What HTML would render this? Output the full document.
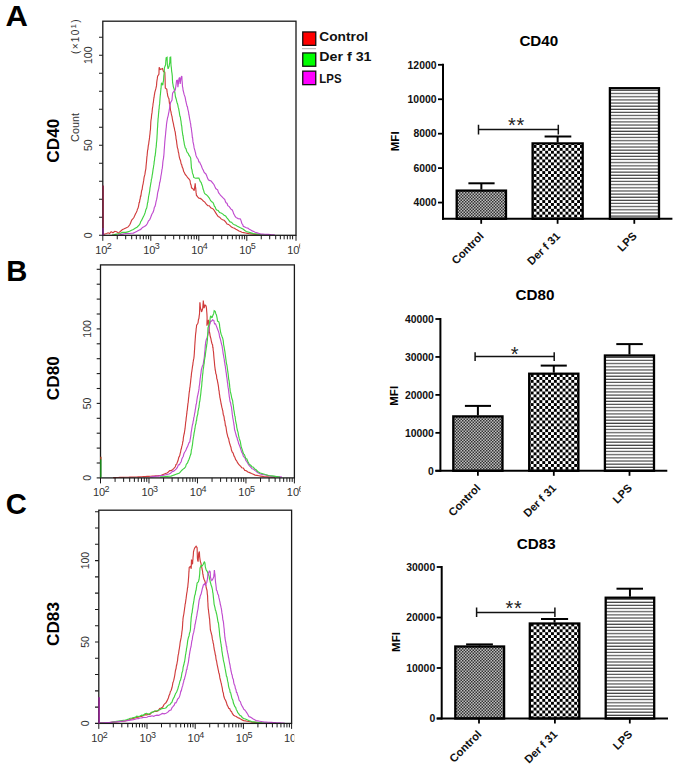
<!DOCTYPE html><html><head><meta charset="utf-8"><style>
html,body{margin:0;padding:0;background:#fff;}
svg{display:block;font-family:"Liberation Sans", sans-serif;}
</style></head><body>
<svg width="675" height="765" viewBox="0 0 675 765">
<defs>
<pattern id="pfine" patternUnits="userSpaceOnUse" width="3" height="3"><rect width="3" height="3" fill="#bdbdbd"/><rect width="1.5" height="1.5" fill="#333"/><rect x="1.5" y="1.5" width="1.5" height="1.5" fill="#333"/></pattern>
<pattern id="pcheck" patternUnits="userSpaceOnUse" width="5.8" height="5.8"><rect width="5.8" height="5.8" fill="#fff"/><rect width="2.9" height="2.9" fill="#000"/><rect x="2.9" y="2.9" width="2.9" height="2.9" fill="#000"/></pattern>
<pattern id="plines" patternUnits="userSpaceOnUse" width="6" height="3.14"><rect width="6" height="3.14" fill="#fff"/><rect y="2" width="6" height="1.1" fill="#3a3a3a"/></pattern>
</defs>
<rect width="675" height="765" fill="#fff"/>

<text transform="translate(5.6,26.2) scale(1.07,1)" font-size="29" font-weight="bold">A</text>
<text x="6.3" y="280.7" font-size="29.2" font-weight="bold">B</text>
<text x="5.7" y="514.2" font-size="29.2" font-weight="bold">C</text>
<text transform="translate(58.6,140.7) rotate(-90)" text-anchor="middle" font-size="17.2" font-weight="bold">CD40</text>
<text transform="translate(58.6,378.2) rotate(-90)" text-anchor="middle" font-size="17.2" font-weight="bold">CD80</text>
<text transform="translate(58.6,624) rotate(-90)" text-anchor="middle" font-size="17.2" font-weight="bold">CD83</text>
<clipPath id="c235"><rect x="0" y="1.2" width="300.2" height="264.1"/></clipPath><g clip-path="url(#c235)">
<polyline points="103,234.6 104.85,234.05 106.7,233.5 108.1,232.8 109.6,233.5 111.1,231.7 113,232.8 114.8,231.3 116.7,231.7 118.5,233.1 120,231.7 122.2,229.8 123.7,229.1 125.9,228 128.1,226.9 129.6,225 130.37,223.62 131.13,221.56 131.9,219.8 133,218.7 133.9,217.57 134.8,215.4 135.53,213.78 136.27,212.45 137,210.9 137.5,208.97 138,208.35 138.5,206.3 138.84,204.44 139.18,202.44 139.51,202.29 139.85,199.68 140.19,198.76 140.52,196.13 140.86,196.13 141.2,193.7 141.51,191.33 141.82,190.05 142.14,189.45 142.45,186.94 142.76,185.04 143.07,184.21 143.39,181.98 143.7,180.4 144.01,177.89 144.33,176.42 144.64,175.36 144.96,174.16 145.27,171.69 145.59,170.09 145.9,168.5 146.05,166.08 146.2,164.7 146.35,163.07 146.5,161.8 146.65,160.05 146.8,157.97 146.95,156.39 147.1,155.67 147.25,153.96 147.4,152.2 147.65,149.95 147.9,149.58 148.15,146.84 148.4,144.93 148.65,144.45 148.9,141.9 149.11,140.62 149.33,139.23 149.54,137.63 149.76,135.22 149.97,133.98 150.19,131.04 150.4,130 150.5,129.07 150.6,126.13 150.7,124.73 150.8,122.36 150.9,121 151.12,119.32 151.34,118.32 151.57,115.42 151.79,113.92 152.01,112.91 152.23,110.57 152.46,108.01 152.68,106.95 152.9,105.4 153.14,103.04 153.38,102.47 153.61,99.91 153.85,98.24 154.09,97.22 154.33,95.15 154.56,94.08 154.8,92.3 155.3,90.66 155.8,88.88 156.3,86.6 156.52,85.63 156.73,82.36 156.95,80.74 157.17,79.41 157.38,78.17 157.6,76.1 158.9,74.2 158.97,73.12 159.05,70.06 159.12,68.35 159.2,67.3 160.2,69.6 161.5,69 162.5,68.6 163.5,71.6 164.8,72.2 164.88,73.17 164.95,74.97 165.03,77.15 165.1,78.8 165.14,80.57 165.18,82.73 165.22,83.7 165.26,85.71 165.3,87.9 166.8,89.2 167.03,91.31 167.25,92.95 167.47,93.93 167.7,95.8 168.35,97.51 169,99 169.2,101.4 169.49,103.52 169.77,103.96 170.06,105.87 170.34,108.55 170.63,110.63 170.91,111.4 171.2,113.2 171.58,115.13 171.96,116.18 172.34,118.73 172.72,120.83 173.1,122.4 173.5,124.18 173.9,126.55 174.3,127.92 174.7,130.44 175.1,131.5 175.34,132.87 175.57,135.24 175.81,135.79 176.05,138.77 176.29,139.76 176.53,140.83 176.76,143.3 177,144.8 177.33,147.34 177.67,148.31 178,149.52 178.33,151.99 178.67,152.78 179,155.26 179.33,157.09 179.67,158.33 180,159.6 180.55,160.65 181.1,163.86 181.65,164.52 182.2,167 182.95,168.54 183.7,171.54 184.45,172.69 185.2,174.4 186.43,175.81 187.67,177.74 188.9,178.9 190,180.4 190.38,182.95 190.75,184.58 191.12,185.28 191.5,187.8 192.85,188.66 194.2,190.7 194.45,188.96 194.7,186.86 194.95,185.55 195.2,183.3 195.37,185.25 195.54,187.42 195.71,188.16 195.89,189.98 196.06,192.63 196.23,193.25 196.4,195.2 197.65,196.91 198.9,198.1 200.37,198.41 201.83,199.42 203.3,201.1 204.8,202.09 206.3,204.04 207.8,205.6 209.27,205.76 210.73,207.9 212.2,208.5 213.32,209.1 214.45,210.69 215.57,212.65 216.7,214.4 218.17,216.51 219.63,217.17 221.1,218.9 222.6,219.83 224.1,220.25 225.6,221.9 227.07,223.96 228.53,224.4 230,225.6 231.47,226.98 232.95,227.68 234.43,228.21 235.9,229.3 237.4,229.94 238.9,230.98 240.4,231.42 241.9,232.2 243.75,232.57 245.6,232.95 247.45,233.32 249.3,233.7 251.27,233.93 253.23,234.17 255.2,234.4 256.9,234.55 258.6,234.7 260.3,234.85 262,235" fill="none" stroke="#d03c3c" stroke-width="1.15" stroke-linejoin="miter" stroke-miterlimit="2"/>
<polyline points="112,235 113.6,234.7 115.2,234.4 116.8,234.1 118.4,233.8 120,233.5 122.2,232.4 124.05,232.4 125.9,232.4 127.75,231.84 129.6,231.3 131.45,230.24 133.3,229.4 135.15,228.27 137,227.2 139.3,225 140.03,223.84 140.77,221.44 141.5,220.6 142.23,219.04 142.97,217.43 143.7,216.1 144.45,214.47 145.2,212.4 145.95,209.42 146.7,208 146.97,206.61 147.25,205.03 147.53,202.81 147.8,202.48 148.07,200.34 148.35,198.73 148.62,196.11 148.9,195.2 149.18,193.8 149.45,192.3 149.72,190.57 150,187.88 150.28,186.61 150.55,185.03 150.82,183.11 151.1,181.9 151.38,179.35 151.65,178.64 151.93,177.3 152.2,175.01 152.47,173.8 152.75,171.82 153.03,169.66 153.3,168.5 153.53,166.79 153.76,165.08 153.99,164.15 154.22,161.17 154.45,160.72 154.68,158.04 154.91,156.23 155.14,156.15 155.37,153.67 155.6,152.2 155.77,149.86 155.94,148.24 156.11,147.53 156.29,145.92 156.46,142.89 156.63,141.8 156.8,140 156.9,138.87 157,137.11 157.1,135.02 157.2,134.02 157.3,131.11 157.4,129.41 157.5,127.79 157.6,127.29 157.7,124.88 157.8,122.51 157.9,122.26 158,120.15 158.1,118.4 158.27,117.53 158.44,115.31 158.61,113.02 158.78,111.95 158.95,109.05 159.12,108.9 159.29,105.81 159.46,105.09 159.63,103.64 159.8,101.4 159.96,99.23 160.11,97.25 160.27,95.54 160.43,94.45 160.59,92.47 160.74,90.88 160.9,89.2 161.05,88.19 161.2,85.89 161.35,83.97 161.5,82.7 162.8,85.3 163.15,82.21 163.5,80.7 163.62,78.82 163.75,76.86 163.88,75.13 164,74.48 164.12,72.94 164.25,71.43 164.38,68.42 164.5,67.6 165.5,65 165.65,63.8 165.8,61.52 165.95,60.41 166.1,57.8 167.1,57.2 167.18,59.91 167.25,61.98 167.32,63.65 167.4,65 167.75,66.93 168.1,68.9 169.1,66.3 169.4,64.13 169.7,63.1 169.8,62.12 169.9,59.18 170,57.5 170.7,57.2 170.77,58.44 170.85,61.68 170.93,63.48 171,65 171.18,66.48 171.35,67.63 171.52,69.82 171.7,71.6 172,73.41 172.3,76.1 172.38,78.52 172.45,80.29 172.53,80.59 172.6,82.7 172.95,84.37 173.3,86.6 173.95,88.49 174.6,90.5 174.83,92.78 175.07,93.56 175.3,95.8 175.75,97.79 176.2,98.95 176.65,101.1 177.1,102.7 177.48,103.72 177.86,105.14 178.24,107.42 178.62,108.38 179,110.6 179.33,112.3 179.67,114.78 180,116.39 180.33,116.72 180.67,119.58 181,121 181.22,123.22 181.43,125.17 181.65,125.4 181.87,127.4 182.08,130.09 182.3,131.5 182.56,133.39 182.82,135.25 183.08,135.97 183.34,138.15 183.6,140 184,141.91 184.4,144.57 184.8,145.8 185.2,147.8 185.94,148.61 186.68,151.18 187.42,152.72 188.16,153.32 188.9,155.2 189.8,156.27 190.7,158.1 190.83,159.97 190.97,161.14 191.1,163.13 191.23,164.84 191.37,167.44 191.5,168.5 191.94,169.52 192.38,172.65 192.82,173.92 193.26,174.81 193.7,177.4 195.43,178.26 197.17,178.03 198.9,178.1 199.65,179.93 200.4,181.79 201.15,182.27 201.9,184.8 202.48,186.13 203.06,189.03 203.64,190.36 204.22,192.5 204.8,193.7 206.3,194.68 207.8,196.19 209.3,198.1 210.53,200.46 211.77,201.8 213,202.6 213.74,204.2 214.48,206.36 215.22,207.15 215.96,209.15 216.7,210 218.17,210.54 219.63,212.5 221.1,213 222.6,213.87 224.1,215.16 225.6,215.9 226.7,217.62 227.8,218.87 228.9,220.33 230,221.9 231.47,222.22 232.93,223.92 234.4,224.8 235.9,225.22 237.4,226.38 238.9,227.09 240.4,227.8 241.88,228.43 243.35,229.32 244.83,230.53 246.3,231.5 248.15,232.07 250,232.6 251.85,233.15 253.7,233.7 255.67,233.93 257.63,234.17 259.6,234.4 261.2,234.55 262.8,234.7 264.4,234.85 266,235" fill="none" stroke="#40d240" stroke-width="1.15" stroke-linejoin="miter" stroke-miterlimit="2"/>
<polyline points="118,235 119.58,234.7 121.16,234.4 122.74,234.1 124.32,233.8 125.9,233.5 127.75,233.5 129.6,233.5 131.45,233.3 133.3,233.1 135.15,232.2 137,231.3 138.85,230.22 140.7,229.4 142.55,227.39 144.4,226.5 145.9,225.59 147.4,223.5 148.5,220.86 149.6,219.8 150.35,218.38 151.1,216.28 151.85,214.25 152.6,213 153.2,211.9 153.8,209.99 154.4,207.17 155,206.44 155.6,204.1 155.92,202.04 156.24,200.84 156.57,199.7 156.89,198.06 157.21,196.31 157.53,193.54 157.86,191.85 158.18,191 158.5,189.3 158.8,188.31 159.1,186.27 159.4,184.93 159.7,182.12 160,182.05 160.3,180.1 160.6,178.77 160.9,176.11 161.2,174.75 161.5,173 161.72,171.47 161.94,169.38 162.16,168.9 162.38,167.36 162.6,165.55 162.82,162.43 163.04,160.75 163.26,159.53 163.48,158.32 163.7,156.7 163.83,155.41 163.96,154.05 164.09,152.04 164.22,149.36 164.35,148.53 164.48,146.52 164.61,144.73 164.74,142.86 164.87,141.14 165,140 165.16,138.12 165.32,136.59 165.48,135.27 165.64,133.47 165.8,131.41 165.96,130.15 166.12,128.21 166.28,127.44 166.44,125.01 166.6,123.7 166.93,121.39 167.27,119.5 167.6,117.73 167.93,116.59 168.27,115.29 168.6,113.2 168.92,112.04 169.23,109.92 169.55,108.34 169.87,105.34 170.18,104.57 170.5,102.7 172,100 172.15,98.15 172.3,96.28 172.45,94.73 172.6,93.1 174,91.2 175.3,89.9 175.56,88.25 175.82,86.26 176.08,84.59 176.34,82.42 176.6,80.7 177.5,80.1 177.6,82.67 177.7,83.84 177.8,85.26 177.9,87.3 178.1,85.59 178.3,84.18 178.5,82.9 178.7,81.01 178.9,78.8 179.5,77.5 179.68,78.25 179.85,81.36 180.02,81.73 180.2,84 180.42,82.06 180.65,79.88 180.88,78.73 181.1,77.5 181.8,76.1 181.92,77.39 182.03,80.49 182.15,81.57 182.27,82.77 182.38,84.71 182.5,86.6 182.8,87.66 183.1,90.5 183.6,92.19 184.1,94.4 185.1,97.1 185.47,99.11 185.83,101.23 186.2,102.7 186.6,104.49 187,106.12 187.4,106.61 187.8,109.06 188.2,110.6 188.52,111.74 188.83,114.52 189.15,115.58 189.47,117.81 189.78,119.57 190.1,121 190.38,122.88 190.66,123.84 190.94,127.06 191.22,127.67 191.5,130 191.71,131.78 191.93,133.19 192.14,135.18 192.36,137.57 192.57,137.67 192.79,139.58 193,141.9 193.36,143.48 193.72,145 194.09,147.67 194.45,149.1 194.81,150.06 195.18,151.86 195.54,152.84 195.9,155.2 196.65,157.11 197.4,158.29 198.15,159.2 198.9,161.99 199.65,162.03 200.4,164.1 201.13,165.15 201.87,167.24 202.6,168.93 203.33,170.26 204.07,172.19 204.8,173 205.7,173.72 206.6,175.54 207.5,178.11 208.4,179.8 209.3,180.4 211.15,181.08 213,183.3 213.93,184.51 214.85,186.6 215.77,188.55 216.7,189.3 217.62,189.89 218.55,192.73 219.47,193.77 220.4,195.2 221.87,196.55 223.33,198.19 224.8,199.6 225.55,201.9 226.3,202.91 227.05,203.24 227.8,205.6 229.27,206.63 230.73,208.88 232.2,210 232.94,211.4 233.68,213.85 234.42,215.05 235.16,216.46 235.9,217.4 238.15,218.6 240.4,218.9 241.12,220.92 241.85,223.5 242.58,224.35 243.3,226.3 244.8,227.08 246.3,227.82 247.8,228.15 249.3,229.3 250.78,230.1 252.25,230.89 253.72,231.56 255.2,232.2 257.17,232.83 259.13,233.47 261.1,234.1 262.95,234.18 264.8,234.25 266.65,234.32 268.5,234.4 270.12,234.55 271.75,234.7 273.38,234.85 275,235" fill="none" stroke="#c04ccf" stroke-width="1.15" stroke-linejoin="miter" stroke-miterlimit="2"/>
<rect x="102.8" y="21.2" width="193.2" height="214.1" fill="none" stroke="#1a1a1a" stroke-width="1.3"/>
<line x1="99" y1="235.3" x2="102.8" y2="235.3" stroke="#1a1a1a" stroke-width="1.1"/>
<line x1="99" y1="217.29" x2="102.8" y2="217.29" stroke="#1a1a1a" stroke-width="1.1"/>
<line x1="99" y1="199.28" x2="102.8" y2="199.28" stroke="#1a1a1a" stroke-width="1.1"/>
<line x1="99" y1="181.27" x2="102.8" y2="181.27" stroke="#1a1a1a" stroke-width="1.1"/>
<line x1="99" y1="163.26" x2="102.8" y2="163.26" stroke="#1a1a1a" stroke-width="1.1"/>
<line x1="99" y1="145.25" x2="102.8" y2="145.25" stroke="#1a1a1a" stroke-width="1.1"/>
<line x1="99" y1="127.24" x2="102.8" y2="127.24" stroke="#1a1a1a" stroke-width="1.1"/>
<line x1="99" y1="109.23" x2="102.8" y2="109.23" stroke="#1a1a1a" stroke-width="1.1"/>
<line x1="99" y1="91.22" x2="102.8" y2="91.22" stroke="#1a1a1a" stroke-width="1.1"/>
<line x1="99" y1="73.21" x2="102.8" y2="73.21" stroke="#1a1a1a" stroke-width="1.1"/>
<line x1="99" y1="55.2" x2="102.8" y2="55.2" stroke="#1a1a1a" stroke-width="1.1"/>
<line x1="99" y1="37.19" x2="102.8" y2="37.19" stroke="#1a1a1a" stroke-width="1.1"/>
<text transform="translate(92,235.3) rotate(-90)" text-anchor="middle" font-size="10.5" fill="#333">0</text>
<text transform="translate(92,145.25) rotate(-90)" text-anchor="middle" font-size="10.5" fill="#333">50</text>
<text transform="translate(92,55.2) rotate(-90)" text-anchor="middle" font-size="10.5" fill="#333">100</text>
<line x1="102.8" y1="235.3" x2="102.8" y2="240.8" stroke="#1a1a1a" stroke-width="1"/>
<line x1="117.25" y1="235.3" x2="117.25" y2="239.3" stroke="#1a1a1a" stroke-width="1"/>
<line x1="125.7" y1="235.3" x2="125.7" y2="239.3" stroke="#1a1a1a" stroke-width="1"/>
<line x1="131.7" y1="235.3" x2="131.7" y2="239.3" stroke="#1a1a1a" stroke-width="1"/>
<line x1="136.35" y1="235.3" x2="136.35" y2="239.3" stroke="#1a1a1a" stroke-width="1"/>
<line x1="140.15" y1="235.3" x2="140.15" y2="239.3" stroke="#1a1a1a" stroke-width="1"/>
<line x1="143.36" y1="235.3" x2="143.36" y2="239.3" stroke="#1a1a1a" stroke-width="1"/>
<line x1="146.15" y1="235.3" x2="146.15" y2="239.3" stroke="#1a1a1a" stroke-width="1"/>
<line x1="148.6" y1="235.3" x2="148.6" y2="239.3" stroke="#1a1a1a" stroke-width="1"/>
<line x1="150.8" y1="235.3" x2="150.8" y2="240.8" stroke="#1a1a1a" stroke-width="1"/>
<line x1="165.25" y1="235.3" x2="165.25" y2="239.3" stroke="#1a1a1a" stroke-width="1"/>
<line x1="173.7" y1="235.3" x2="173.7" y2="239.3" stroke="#1a1a1a" stroke-width="1"/>
<line x1="179.7" y1="235.3" x2="179.7" y2="239.3" stroke="#1a1a1a" stroke-width="1"/>
<line x1="184.35" y1="235.3" x2="184.35" y2="239.3" stroke="#1a1a1a" stroke-width="1"/>
<line x1="188.15" y1="235.3" x2="188.15" y2="239.3" stroke="#1a1a1a" stroke-width="1"/>
<line x1="191.36" y1="235.3" x2="191.36" y2="239.3" stroke="#1a1a1a" stroke-width="1"/>
<line x1="194.15" y1="235.3" x2="194.15" y2="239.3" stroke="#1a1a1a" stroke-width="1"/>
<line x1="196.6" y1="235.3" x2="196.6" y2="239.3" stroke="#1a1a1a" stroke-width="1"/>
<line x1="198.8" y1="235.3" x2="198.8" y2="240.8" stroke="#1a1a1a" stroke-width="1"/>
<line x1="213.25" y1="235.3" x2="213.25" y2="239.3" stroke="#1a1a1a" stroke-width="1"/>
<line x1="221.7" y1="235.3" x2="221.7" y2="239.3" stroke="#1a1a1a" stroke-width="1"/>
<line x1="227.7" y1="235.3" x2="227.7" y2="239.3" stroke="#1a1a1a" stroke-width="1"/>
<line x1="232.35" y1="235.3" x2="232.35" y2="239.3" stroke="#1a1a1a" stroke-width="1"/>
<line x1="236.15" y1="235.3" x2="236.15" y2="239.3" stroke="#1a1a1a" stroke-width="1"/>
<line x1="239.36" y1="235.3" x2="239.36" y2="239.3" stroke="#1a1a1a" stroke-width="1"/>
<line x1="242.15" y1="235.3" x2="242.15" y2="239.3" stroke="#1a1a1a" stroke-width="1"/>
<line x1="244.6" y1="235.3" x2="244.6" y2="239.3" stroke="#1a1a1a" stroke-width="1"/>
<line x1="246.8" y1="235.3" x2="246.8" y2="240.8" stroke="#1a1a1a" stroke-width="1"/>
<line x1="261.25" y1="235.3" x2="261.25" y2="239.3" stroke="#1a1a1a" stroke-width="1"/>
<line x1="269.7" y1="235.3" x2="269.7" y2="239.3" stroke="#1a1a1a" stroke-width="1"/>
<line x1="275.7" y1="235.3" x2="275.7" y2="239.3" stroke="#1a1a1a" stroke-width="1"/>
<line x1="280.35" y1="235.3" x2="280.35" y2="239.3" stroke="#1a1a1a" stroke-width="1"/>
<line x1="284.15" y1="235.3" x2="284.15" y2="239.3" stroke="#1a1a1a" stroke-width="1"/>
<line x1="287.36" y1="235.3" x2="287.36" y2="239.3" stroke="#1a1a1a" stroke-width="1"/>
<line x1="290.15" y1="235.3" x2="290.15" y2="239.3" stroke="#1a1a1a" stroke-width="1"/>
<line x1="292.6" y1="235.3" x2="292.6" y2="239.3" stroke="#1a1a1a" stroke-width="1"/>
<line x1="296" y1="235.3" x2="296" y2="240.8" stroke="#1a1a1a" stroke-width="1"/>
<text x="95.2" y="253.8" font-size="11" fill="#333">10<tspan dx="-0.6" dy="-4.4" font-size="9">2</tspan></text>
<text x="143.2" y="253.8" font-size="11" fill="#333">10<tspan dx="-0.6" dy="-4.4" font-size="9">3</tspan></text>
<text x="191.2" y="253.8" font-size="11" fill="#333">10<tspan dx="-0.6" dy="-4.4" font-size="9">4</tspan></text>
<text x="239.2" y="253.8" font-size="11" fill="#333">10<tspan dx="-0.6" dy="-4.4" font-size="9">5</tspan></text>
<text x="287.2" y="253.8" font-size="11" fill="#333">10<tspan dx="-0.6" dy="-4.4" font-size="9">6</tspan></text>
<line x1="103.1" y1="185.5" x2="103.1" y2="228" stroke="#86203f" stroke-width="1.5"/>
<line x1="103.1" y1="228" x2="103.1" y2="235.3" stroke="#7a2080" stroke-width="1.5"/>
</g>
<text transform="translate(79,127.5) rotate(-90)" text-anchor="middle" font-size="10.8" fill="#333">Count</text>
<text transform="translate(78.8,54) rotate(-90)" font-size="10" fill="#333" letter-spacing="1.3">(×10<tspan dy="-3.3" font-size="8">1</tspan><tspan dy="3.3">)</tspan></text>
<clipPath id="c477"><rect x="0" y="244.9" width="300.8" height="263"/></clipPath><g clip-path="url(#c477)">
<polyline points="113,477.6 114.69,477.56 116.38,477.51 118.06,477.47 119.75,477.43 121.44,477.38 123.12,477.34 124.81,477.29 126.5,477.25 128.19,477.21 129.88,477.16 131.56,477.12 133.25,477.07 134.94,477.03 136.62,476.99 138.31,476.94 140,476.9 141.77,476.79 143.54,476.67 145.31,476.56 147.09,476.44 148.86,476.33 150.63,476.21 152.4,476.1 154.06,475.98 155.72,475.86 157.38,475.74 159.04,475.62 160.7,475.5 162.27,474.87 163.85,474.18 165.43,473.45 167,473 168.38,472.03 169.77,470.64 171.15,470.56 172.53,469.67 173.92,468.39 175.3,466.8 175.98,464.52 176.67,464.18 177.35,462.17 178.03,460.56 178.72,457.53 179.4,456.4 179.79,455.37 180.18,453.35 180.56,452.28 180.95,449.76 181.34,448.73 181.72,446.66 182.11,445.41 182.5,443.9 182.79,441.49 183.07,441.28 183.36,437.85 183.65,436.21 183.94,434.54 184.23,433.76 184.51,431.81 184.8,430 185,428.97 185.2,426.96 185.4,425.22 185.6,422.74 185.8,421.6 186,420.5 186.2,417.93 186.4,416.78 186.6,415 186.8,413.68 187,411.14 187.2,410.55 187.4,408.62 187.6,406.67 187.8,404.83 188,403.06 188.2,402.38 188.4,400 188.6,397.85 188.8,396.78 189,394.29 189.2,392.52 189.4,391.46 189.6,390.1 189.8,387.55 190,387.44 190.2,385 190.4,383.45 190.6,381.85 190.8,379.67 191,378.03 191.2,376.68 191.4,374.38 191.6,372.49 191.8,371.58 192,370 192.26,368.26 192.53,366.16 192.79,365.09 193.05,362.44 193.31,361.2 193.57,359.3 193.84,358.4 194.1,356.3 194.22,354.46 194.33,353.2 194.45,350.7 194.56,349.67 194.68,347.56 194.79,345.31 194.91,344.05 195.02,341.88 195.14,340.75 195.25,338.69 195.37,337.57 195.48,335.46 195.6,334.2 195.8,332.62 196,331.29 196.2,328.32 196.4,327.74 196.6,325.1 197.6,323.8 198.03,322.81 198.47,319.47 198.9,318.5 199.2,315.92 199.5,314 199.56,312.05 199.61,310.68 199.67,309.15 199.73,306.77 199.79,305.59 199.84,303.28 199.9,302.2 200.1,303.74 200.3,306.62 200.5,308.1 201,309.51 201.5,312 202.15,310.22 202.8,308.1 202.93,305.43 203.05,303.93 203.18,303.08 203.3,300.6 203.5,302.72 203.7,304.12 203.9,306.4 204.1,308.1 204.6,306.36 205.1,304.8 206.1,306.1 206.3,307.17 206.5,308.67 206.7,311.3 206.8,312.56 206.9,313.74 207,315.5 207.1,317.9 207.05,320.16 207,321.29 206.95,323.36 206.9,325.7 207.4,323.81 207.9,322.02 208.4,319.8 208.55,321.46 208.7,323.34 208.85,324.75 209,326.4 209.1,327.27 209.2,329 209.3,331.6 209.63,332.75 209.97,334.56 210.3,336.8 210.8,338.26 211.3,340.8 211.95,343.48 212.6,345 212.8,347.46 213,347.47 213.2,350.41 213.4,350.96 213.6,353.3 213.77,355.59 213.93,357.52 214.1,359.3 214.28,360.82 214.47,362.94 214.65,365.24 214.83,366.79 215.02,368.05 215.2,370 215.52,371.08 215.85,373.78 216.18,374.17 216.5,375.68 216.82,379 217.15,379.22 217.48,381.1 217.8,383 218.06,384.08 218.32,385.57 218.58,387.47 218.84,390.24 219.1,390.74 219.36,393.81 219.62,394.79 219.88,397.34 220.14,398.46 220.4,400 220.75,401.53 221.1,403.76 221.45,405.15 221.8,407.14 222.15,408.24 222.5,410 222.82,410.86 223.15,413.99 223.47,415.31 223.8,415.79 224.12,417.38 224.45,420.37 224.78,420.79 225.1,423.2 225.43,425.77 225.75,425.88 226.07,427.51 226.4,430 226.85,432.82 227.3,434.52 227.75,436.61 228.2,437.7 228.66,438.78 229.11,441.47 229.57,443.04 230.02,444.48 230.48,446.02 230.93,447.24 231.39,449.85 231.84,451.08 232.3,452.2 233.14,453.02 233.98,455.94 234.82,457.19 235.66,459.64 236.5,460.5 237.54,462.66 238.58,464.15 239.62,465.37 240.66,466.2 241.7,467.8 243.25,468.02 244.8,470.39 246.35,470.72 247.9,472 249.7,472.63 251.5,473.5 253.3,474.24 255.1,475.1 256.98,475.42 258.86,475.74 260.74,476.06 262.62,476.38 264.5,476.7 266.25,476.8 268,476.9 269.75,477 271.5,477.1 273.25,477.2 275,477.3" fill="none" stroke="#d03c3c" stroke-width="1.15" stroke-linejoin="miter" stroke-miterlimit="2"/>
<polyline points="150,477 151.6,476.81 153.2,476.62 154.8,476.44 156.4,476.25 158,476.06 159.6,475.88 161.2,475.69 162.8,475.5 164.87,475 166.93,474.5 169,474 170.57,473.24 172.15,471.67 173.73,471.17 175.3,469.9 176.34,468.89 177.38,467.44 178.42,464.9 179.46,464.77 180.5,462.6 181.18,461.73 181.87,458.93 182.55,457.43 183.23,456.49 183.92,453.67 184.6,452.2 185.34,451.27 186.09,449.74 186.83,447.84 187.57,446.59 188.31,444.54 189.06,442.66 189.8,441.9 190.06,439.93 190.31,438.63 190.57,437.04 190.83,435.99 191.09,432.71 191.34,431.3 191.6,430 191.91,427.9 192.22,426 192.53,424.29 192.84,423.99 193.16,421.2 193.47,420.56 193.78,417.59 194.09,416.93 194.4,415 194.68,413.1 194.96,412.31 195.23,409.9 195.51,408.54 195.79,406.64 196.07,404.56 196.34,404.09 196.62,402.38 196.9,400 197.2,398.22 197.5,396.23 197.8,395.05 198.1,393.98 198.4,392.02 198.7,390.69 199,388.9 199.21,386.37 199.42,385.23 199.63,383.99 199.84,382.13 200.05,379.92 200.25,377.97 200.46,377.02 200.67,374.92 200.88,373.86 201.09,372.09 201.3,370 201.87,367.88 202.43,365.94 203,365.2 203.28,363.84 203.56,361.72 203.84,359.96 204.12,358.55 204.4,356.3 204.56,354.38 204.72,352.14 204.89,351.34 205.05,349.53 205.21,346.9 205.38,344.89 205.54,343.74 205.7,342.1 206.4,339.27 207.1,338.1 207.5,335.7 207.9,335.23 208.3,332.69 208.7,331.6 208.95,329.63 209.2,328.26 209.45,326.02 209.7,324.4 210.15,323.55 210.6,321.1 211.6,321.1 212.6,319.8 213.9,320.5 214.25,322.64 214.6,323.8 215.5,323.8 216.5,326.4 217.5,329 218.5,331.6 219.1,333.6 219.45,335.9 219.8,337.5 220.3,338.77 220.8,340.8 221.3,343.06 221.8,345 222.07,345.78 222.34,348.18 222.61,349.3 222.89,351.48 223.16,353.55 223.43,354.93 223.7,356.3 223.96,358.14 224.22,358.88 224.49,361.98 224.75,362.57 225.01,365.24 225.28,365.81 225.54,368.47 225.8,370 226.03,372.03 226.25,372.87 226.47,375.13 226.7,377 226.93,377.95 227.17,379.86 227.4,382.44 227.63,383.09 227.87,385.99 228.1,387.4 228.34,388.51 228.59,390.3 228.83,392.94 229.07,394.52 229.31,396.85 229.56,397.8 229.8,400 230.18,401.92 230.55,402.52 230.93,405.07 231.3,406.6 231.54,407.46 231.78,409.85 232.01,411.45 232.25,414.14 232.49,415.41 232.72,417.5 232.96,418.6 233.2,420 233.45,421.64 233.7,422.49 233.95,425.03 234.2,425.83 234.45,428.95 234.7,430 235.17,431.58 235.63,433.33 236.1,435 236.57,436.94 237.03,437.3 237.5,439.8 238.03,440.96 238.55,443.36 239.07,444.45 239.6,445.77 240.12,447.18 240.65,448.75 241.17,450.42 241.7,452.2 242.52,453.34 243.34,456.16 244.16,457.05 244.98,457.95 245.8,460.5 246.83,461.62 247.87,463.36 248.9,465.23 249.93,466.34 250.97,467.44 252,468.8 253.38,469.03 254.77,470.4 256.15,471.23 257.53,472.43 258.92,473.14 260.3,474 262.03,474.41 263.77,474.7 265.5,475.05 267.23,475.4 268.97,475.75 270.7,476.1 272.31,476.23 273.93,476.36 275.54,476.49 277.16,476.61 278.77,476.74 280.39,476.87 282,477" fill="none" stroke="#c04ccf" stroke-width="1.15" stroke-linejoin="miter" stroke-miterlimit="2"/>
<polyline points="160,477 161.85,476.85 163.7,476.7 165.55,476.55 167.4,476.4 169.25,476.25 171.1,476.1 172.76,475.48 174.42,474.86 176.08,474.17 177.74,473.67 179.4,473 180.64,471.54 181.88,470.21 183.12,469.11 184.36,468.29 185.6,466.8 186.25,464.47 186.9,463.71 187.55,462.96 188.2,460.97 188.85,459.64 189.5,458.07 190.15,455.82 190.8,454.3 191.06,453.2 191.32,450.31 191.58,449.2 191.84,448.69 192.1,446.65 192.36,445.47 192.62,443.51 192.88,440.74 193.14,439.27 193.4,437.36 193.66,436.19 193.92,434.43 194.18,432.49 194.44,431.56 194.7,430 195.01,428.21 195.32,425.77 195.63,424.32 195.94,423.89 196.26,420.95 196.57,420.76 196.88,417.5 197.19,416.11 197.5,415 197.78,414.1 198.06,410.79 198.33,410.24 198.61,408.43 198.89,407.56 199.17,405.44 199.44,402.5 199.72,401.51 200,400 200.21,397.99 200.43,396.29 200.64,394.83 200.86,393.04 201.07,390.57 201.29,388.56 201.5,387.4 201.66,386.29 201.82,383.94 201.98,381.32 202.14,381.31 202.3,378.24 202.46,376.9 202.62,374.58 202.78,374 202.94,372.54 203.1,370 203.36,368.61 203.62,366.88 203.89,364.56 204.15,363.73 204.41,360.77 204.67,358.87 204.94,357.29 205.2,356.3 205.42,353.92 205.64,352.59 205.86,350.79 206.08,349.41 206.3,347.46 206.52,346.78 206.74,344.5 206.96,343.96 207.18,341.31 207.4,340 207.49,338.19 207.57,336.65 207.66,335.17 207.74,333.4 207.83,332.02 207.91,329.29 208,327.7 209,325.1 209.33,323.95 209.67,321.79 210,319.8 210.3,317.25 210.6,315.9 212,317.9 212.65,315.92 213.3,314.6 213.75,313.46 214.2,310.7 215.2,311.3 215.9,314 216.4,314.77 216.9,317.2 217.2,318.67 217.5,321.1 218.8,321.8 219.5,324.4 219.65,326.26 219.8,327.7 220.15,329.43 220.5,331.6 221.1,334.2 222.1,336.8 222.6,337.92 223.1,340.1 223.3,341.1 223.5,343.61 223.7,345 224.05,346.61 224.4,348.9 224.65,350.34 224.9,351.7 225.15,353.58 225.4,355.53 225.65,357.55 225.9,359.3 226.18,361.37 226.47,363.7 226.75,364.53 227.03,365.74 227.32,368.25 227.6,370 227.82,371.95 228.03,373.13 228.25,374.94 228.47,376.7 228.68,379.12 228.9,380 229.11,380.8 229.33,383.09 229.54,384.43 229.76,387.16 229.97,388.28 230.19,390.76 230.4,391.9 230.8,393.3 231.2,395.03 231.6,397.33 232,399.01 232.4,400 232.67,400.89 232.93,404.06 233.2,404.6 233.47,406.8 233.73,409.52 234,410.7 234.28,412.34 234.55,414.45 234.82,415.95 235.1,416.37 235.38,419.18 235.65,421.04 235.93,422.08 236.2,423.81 236.48,424.31 236.75,427.34 237.03,428.4 237.3,430 237.7,431.17 238.1,432.57 238.5,435.29 238.9,436.82 239.3,438.92 239.7,439.74 240.1,440.95 240.5,442.62 240.9,445.06 241.3,447.24 241.7,448.1 242.38,450.1 243.07,452.33 243.75,454.15 244.43,454.57 245.12,456.57 245.8,458.5 246.83,459.01 247.87,461.47 248.9,463.54 249.93,464.81 250.97,465.52 252,466.8 253.38,467.19 254.77,469.12 256.15,469.75 257.53,471.24 258.92,472.34 260.3,473 261.96,473.51 263.62,474.05 265.28,474.56 266.94,475 268.6,475.5 270.23,475.71 271.86,475.93 273.49,476.14 275.11,476.36 276.74,476.57 278.37,476.79 280,477" fill="none" stroke="#40d240" stroke-width="1.15" stroke-linejoin="miter" stroke-miterlimit="2"/>
<rect x="100.5" y="264.9" width="193.9" height="213" fill="none" stroke="#1a1a1a" stroke-width="1.3"/>
<line x1="96.7" y1="477.9" x2="100.5" y2="477.9" stroke="#1a1a1a" stroke-width="1.1"/>
<line x1="96.7" y1="463" x2="100.5" y2="463" stroke="#1a1a1a" stroke-width="1.1"/>
<line x1="96.7" y1="448.1" x2="100.5" y2="448.1" stroke="#1a1a1a" stroke-width="1.1"/>
<line x1="96.7" y1="433.2" x2="100.5" y2="433.2" stroke="#1a1a1a" stroke-width="1.1"/>
<line x1="96.7" y1="418.3" x2="100.5" y2="418.3" stroke="#1a1a1a" stroke-width="1.1"/>
<line x1="96.7" y1="403.4" x2="100.5" y2="403.4" stroke="#1a1a1a" stroke-width="1.1"/>
<line x1="96.7" y1="388.5" x2="100.5" y2="388.5" stroke="#1a1a1a" stroke-width="1.1"/>
<line x1="96.7" y1="373.6" x2="100.5" y2="373.6" stroke="#1a1a1a" stroke-width="1.1"/>
<line x1="96.7" y1="358.7" x2="100.5" y2="358.7" stroke="#1a1a1a" stroke-width="1.1"/>
<line x1="96.7" y1="343.8" x2="100.5" y2="343.8" stroke="#1a1a1a" stroke-width="1.1"/>
<line x1="96.7" y1="328.9" x2="100.5" y2="328.9" stroke="#1a1a1a" stroke-width="1.1"/>
<line x1="96.7" y1="314" x2="100.5" y2="314" stroke="#1a1a1a" stroke-width="1.1"/>
<line x1="96.7" y1="299.1" x2="100.5" y2="299.1" stroke="#1a1a1a" stroke-width="1.1"/>
<line x1="96.7" y1="284.2" x2="100.5" y2="284.2" stroke="#1a1a1a" stroke-width="1.1"/>
<line x1="96.7" y1="269.3" x2="100.5" y2="269.3" stroke="#1a1a1a" stroke-width="1.1"/>
<text transform="translate(90.7,477.9) rotate(-90)" text-anchor="middle" font-size="10.5" fill="#333">0</text>
<text transform="translate(90.7,403.4) rotate(-90)" text-anchor="middle" font-size="10.5" fill="#333">50</text>
<text transform="translate(90.7,328.9) rotate(-90)" text-anchor="middle" font-size="10.5" fill="#333">100</text>
<line x1="100.5" y1="477.9" x2="100.5" y2="483.4" stroke="#1a1a1a" stroke-width="1"/>
<line x1="115.09" y1="477.9" x2="115.09" y2="481.9" stroke="#1a1a1a" stroke-width="1"/>
<line x1="123.63" y1="477.9" x2="123.63" y2="481.9" stroke="#1a1a1a" stroke-width="1"/>
<line x1="129.69" y1="477.9" x2="129.69" y2="481.9" stroke="#1a1a1a" stroke-width="1"/>
<line x1="134.39" y1="477.9" x2="134.39" y2="481.9" stroke="#1a1a1a" stroke-width="1"/>
<line x1="138.22" y1="477.9" x2="138.22" y2="481.9" stroke="#1a1a1a" stroke-width="1"/>
<line x1="141.47" y1="477.9" x2="141.47" y2="481.9" stroke="#1a1a1a" stroke-width="1"/>
<line x1="144.28" y1="477.9" x2="144.28" y2="481.9" stroke="#1a1a1a" stroke-width="1"/>
<line x1="146.76" y1="477.9" x2="146.76" y2="481.9" stroke="#1a1a1a" stroke-width="1"/>
<line x1="148.98" y1="477.9" x2="148.98" y2="483.4" stroke="#1a1a1a" stroke-width="1"/>
<line x1="163.57" y1="477.9" x2="163.57" y2="481.9" stroke="#1a1a1a" stroke-width="1"/>
<line x1="172.11" y1="477.9" x2="172.11" y2="481.9" stroke="#1a1a1a" stroke-width="1"/>
<line x1="178.17" y1="477.9" x2="178.17" y2="481.9" stroke="#1a1a1a" stroke-width="1"/>
<line x1="182.87" y1="477.9" x2="182.87" y2="481.9" stroke="#1a1a1a" stroke-width="1"/>
<line x1="186.7" y1="477.9" x2="186.7" y2="481.9" stroke="#1a1a1a" stroke-width="1"/>
<line x1="189.95" y1="477.9" x2="189.95" y2="481.9" stroke="#1a1a1a" stroke-width="1"/>
<line x1="192.76" y1="477.9" x2="192.76" y2="481.9" stroke="#1a1a1a" stroke-width="1"/>
<line x1="195.24" y1="477.9" x2="195.24" y2="481.9" stroke="#1a1a1a" stroke-width="1"/>
<line x1="197.46" y1="477.9" x2="197.46" y2="483.4" stroke="#1a1a1a" stroke-width="1"/>
<line x1="212.05" y1="477.9" x2="212.05" y2="481.9" stroke="#1a1a1a" stroke-width="1"/>
<line x1="220.59" y1="477.9" x2="220.59" y2="481.9" stroke="#1a1a1a" stroke-width="1"/>
<line x1="226.65" y1="477.9" x2="226.65" y2="481.9" stroke="#1a1a1a" stroke-width="1"/>
<line x1="231.35" y1="477.9" x2="231.35" y2="481.9" stroke="#1a1a1a" stroke-width="1"/>
<line x1="235.18" y1="477.9" x2="235.18" y2="481.9" stroke="#1a1a1a" stroke-width="1"/>
<line x1="238.43" y1="477.9" x2="238.43" y2="481.9" stroke="#1a1a1a" stroke-width="1"/>
<line x1="241.24" y1="477.9" x2="241.24" y2="481.9" stroke="#1a1a1a" stroke-width="1"/>
<line x1="243.72" y1="477.9" x2="243.72" y2="481.9" stroke="#1a1a1a" stroke-width="1"/>
<line x1="245.94" y1="477.9" x2="245.94" y2="483.4" stroke="#1a1a1a" stroke-width="1"/>
<line x1="260.53" y1="477.9" x2="260.53" y2="481.9" stroke="#1a1a1a" stroke-width="1"/>
<line x1="269.07" y1="477.9" x2="269.07" y2="481.9" stroke="#1a1a1a" stroke-width="1"/>
<line x1="275.13" y1="477.9" x2="275.13" y2="481.9" stroke="#1a1a1a" stroke-width="1"/>
<line x1="279.83" y1="477.9" x2="279.83" y2="481.9" stroke="#1a1a1a" stroke-width="1"/>
<line x1="283.66" y1="477.9" x2="283.66" y2="481.9" stroke="#1a1a1a" stroke-width="1"/>
<line x1="286.91" y1="477.9" x2="286.91" y2="481.9" stroke="#1a1a1a" stroke-width="1"/>
<line x1="289.72" y1="477.9" x2="289.72" y2="481.9" stroke="#1a1a1a" stroke-width="1"/>
<line x1="292.2" y1="477.9" x2="292.2" y2="481.9" stroke="#1a1a1a" stroke-width="1"/>
<line x1="294.4" y1="477.9" x2="294.4" y2="483.4" stroke="#1a1a1a" stroke-width="1"/>
<text x="92.9" y="496.4" font-size="11" fill="#333">10<tspan dx="-0.6" dy="-4.4" font-size="9">2</tspan></text>
<text x="141.38" y="496.4" font-size="11" fill="#333">10<tspan dx="-0.6" dy="-4.4" font-size="9">3</tspan></text>
<text x="189.86" y="496.4" font-size="11" fill="#333">10<tspan dx="-0.6" dy="-4.4" font-size="9">4</tspan></text>
<text x="238.34" y="496.4" font-size="11" fill="#333">10<tspan dx="-0.6" dy="-4.4" font-size="9">5</tspan></text>
<text x="286.82" y="496.4" font-size="11" fill="#333">10<tspan dx="-0.6" dy="-4.4" font-size="9">6</tspan></text>
<line x1="100.8" y1="456.7" x2="100.8" y2="459.8" stroke="#a04020" stroke-width="1.5"/>
<line x1="100.8" y1="459.6" x2="100.8" y2="477.5" stroke="#1a8a1a" stroke-width="1.5"/>
</g>
<clipPath id="c723"><rect x="0" y="490.2" width="294.3" height="263.2"/></clipPath><g clip-path="url(#c723)">
<polyline points="99,723 100.83,722.92 102.67,722.83 104.5,722.75 106.33,722.67 108.17,722.58 110,722.5 111.67,722.33 113.33,722.17 115,722 116.67,721.83 118.33,721.67 120,721.5 121.67,721.33 123.33,721.17 125,721 126.67,720.5 128.33,719.99 130,719.52 131.67,718.82 133.33,718.43 135,717.97 136.67,717.44 138.33,717.14 140,716.5 141.66,716.42 143.32,715.59 144.98,714.7 146.64,714.82 148.3,714.4 149.96,714.46 151.62,712.38 153.28,712.04 154.94,711.16 156.6,711.3 158.15,710.78 159.7,708.6 161.25,708.05 162.8,707.1 163.85,704.72 164.9,703.66 165.95,702.78 167,700.9 167.68,699.43 168.37,697.98 169.05,695.51 169.73,694.28 170.42,691.39 171.1,690.5 171.54,688.99 171.99,687.53 172.43,685.55 172.87,682.76 173.31,681.66 173.76,680.23 174.2,678.1 174.51,676.75 174.82,674.94 175.13,672.79 175.44,670.7 175.75,669.49 176.06,668.52 176.37,665.85 176.68,665.02 176.99,663.5 177.3,661.5 177.55,660.54 177.79,657.88 178.04,656.02 178.28,654.56 178.53,653.93 178.78,651.96 179.02,650.14 179.27,649.01 179.52,647.24 179.76,645.84 180.01,643.48 180.25,641.96 180.5,640.7 180.78,639.3 181.07,637.88 181.35,636.06 181.63,634.43 181.92,631.68 182.2,630 182.33,628.78 182.47,626.88 182.6,625.05 182.73,622.14 182.87,620.9 183,618.9 183.28,616.76 183.56,615.46 183.84,614.01 184.12,611.82 184.4,610 184.65,607.87 184.9,606.53 185.15,603.98 185.4,603.5 185.65,601.39 185.9,599.6 186.13,598.19 186.37,596.3 186.6,594.43 186.83,592.79 187.07,591.77 187.3,590 187.5,587.74 187.7,587.61 187.9,585.24 188.1,583.14 188.3,581.8 188.41,579.65 188.53,578.2 188.64,576.89 188.75,575.25 188.86,572.74 188.97,571.94 189.09,569.66 189.2,567.5 190.6,566.1 191.2,568.8 191.26,566.71 191.32,565.22 191.38,562.77 191.44,561.62 191.5,559.6 192,562.75 192.5,564.2 192.64,562.88 192.79,560.01 192.93,559.75 193.07,556.77 193.21,556.18 193.36,554.27 193.5,551.8 194.15,549.35 194.8,547.8 196.1,546.2 197.1,547.8 197.15,548.96 197.2,551.55 197.25,553.63 197.3,554.72 197.35,555.7 197.4,558.3 197.75,560.66 198.1,561.6 198.22,559.7 198.34,558.16 198.46,557.07 198.58,554.65 198.7,553.1 199.4,551.4 199.5,553.86 199.6,555.9 199.7,557 200.05,559.59 200.4,561.6 200.85,562.92 201.3,564.8 201.63,566.92 201.97,568.35 202.3,570.1 202.55,571.05 202.8,574.2 203.05,574.36 203.3,576.6 204,579.2 204.65,580.55 205.3,582.5 205.6,584.68 205.9,585.39 206.2,587.7 206.9,590 207.1,591.17 207.3,594.08 207.5,595.2 207.59,596.1 207.67,599.1 207.76,600.36 207.84,602.84 207.93,602.76 208.01,605.74 208.1,607 208.31,609.2 208.53,610.46 208.74,612.75 208.96,614.2 209.17,616 209.39,618.06 209.6,618.9 209.73,621.05 209.87,623.36 210,624.66 210.13,626.11 210.27,628.52 210.4,630 211,632.04 211.6,634.5 211.91,635.64 212.22,638.18 212.53,639.93 212.84,640.71 213.15,643.08 213.46,643.64 213.77,646.16 214.08,648.2 214.39,650.11 214.7,651.1 215.01,652.91 215.32,654.74 215.63,655.45 215.94,658.52 216.25,660.07 216.56,661 216.87,662.99 217.18,664.79 217.49,666.15 217.8,667.7 218.14,669.34 218.49,670.92 218.83,672.98 219.18,673.57 219.52,675.46 219.87,677.94 220.21,679.25 220.56,680.6 220.9,682.2 221.24,683.24 221.59,685.19 221.93,686.53 222.28,688.17 222.62,690.8 222.97,692.31 223.31,692.72 223.66,695.54 224,696.8 224.62,698.71 225.24,699.81 225.86,701.02 226.48,702.69 227.1,705.1 227.97,706.57 228.83,708.52 229.7,708.56 230.57,711.07 231.43,711.19 232.3,713.4 233.6,715.2 234.9,716.02 236.2,716.45 237.5,717.5 239.05,718.1 240.6,719.02 242.15,719.87 243.7,720.6 245.36,720.9 247.02,721.2 248.68,721.5 250.34,721.8 252,722.1 253.67,722.25 255.33,722.4 257,722.55 258.67,722.7 260.33,722.85 262,723" fill="none" stroke="#d03c3c" stroke-width="1.15" stroke-linejoin="miter" stroke-miterlimit="2"/>
<polyline points="99,723 100.83,722.92 102.67,722.83 104.5,722.75 106.33,722.67 108.17,722.58 110,722.5 111.71,722.22 113.42,721.94 115.13,721.67 116.84,721.39 118.56,721.11 120.27,720.83 121.98,720.56 123.69,720.29 125.4,720 127.02,719.6 128.64,719.04 130.26,718.3 131.88,718.01 133.5,717.6 135.14,717.42 136.78,716.09 138.42,716.49 140.06,715.94 141.7,715.2 143.34,715.29 144.98,713.74 146.62,713.3 148.26,714.3 149.9,713.5 151.57,712.63 153.25,711.78 154.93,711.03 156.6,711 158.26,710.28 159.92,709.79 161.58,708.68 163.24,708.51 164.9,708.2 166.14,707.72 167.38,706.11 168.62,704.95 169.86,704.8 171.1,703 171.84,702.39 172.59,700.27 173.33,698.49 174.07,697.4 174.81,695.59 175.56,693.46 176.3,692.6 176.83,691.55 177.35,690.17 177.88,688.84 178.4,686.58 178.93,685.17 179.45,683.18 179.97,680.9 180.5,680.2 180.87,678.53 181.25,677.26 181.62,674.98 181.99,672.56 182.36,671.7 182.74,670.67 183.11,667.43 183.48,665.85 183.85,664.77 184.23,662.74 184.6,661.5 184.84,659.98 185.08,658.42 185.32,656.59 185.55,654.6 185.79,653.84 186.03,651.79 186.27,651.02 186.51,648.36 186.75,647.78 186.98,646.04 187.22,644.75 187.46,642.57 187.7,640.7 188.15,638.68 188.6,637 189.05,635.9 189.5,633.16 189.95,631.99 190.4,630 190.52,627.79 190.63,625.84 190.75,624.23 190.87,621.81 190.98,621.46 191.1,618.9 191.34,616.67 191.59,615.19 191.83,613.21 192.08,612.99 192.32,610.67 192.57,608.9 192.81,607.52 193.06,605.15 193.3,604.1 193.6,602.36 193.9,600.68 194.2,598.57 194.5,596.58 194.8,595.2 195.23,594.3 195.67,591.23 196.1,590 196.35,588.2 196.6,586.75 196.85,585.2 197.1,583.1 198.4,581.8 199.1,579.2 199.3,577.48 199.5,575.6 199.7,574 199.8,571.9 199.9,570.23 200,568.1 201,565.5 202,566.1 203.3,564.2 204.3,561.6 204.9,562.9 205.1,564.34 205.3,566.8 205.75,568.29 206.2,570.1 207.2,571.4 208.2,574 209.2,576.6 209.53,579 209.87,579.71 210.2,581.8 210.65,583.23 211.1,585.1 211.57,586.3 212.03,587.81 212.5,590 212.73,592.47 212.97,593.02 213.2,595.2 213.38,597.07 213.56,598.77 213.74,600.12 213.92,602.11 214.1,604.1 214.54,605.97 214.98,607.7 215.42,610.27 215.86,610.74 216.3,613 216.67,614.09 217.03,616.13 217.4,618.11 217.77,620.55 218.13,622.3 218.5,623.3 218.68,624.71 218.85,627.07 219.03,627.77 219.2,629.66 219.38,631.41 219.55,633.52 219.72,635.36 219.9,636.6 220.14,637.81 220.38,639.74 220.62,641.96 220.85,643.18 221.09,644.19 221.33,646.88 221.57,647.24 221.81,650.17 222.05,651.83 222.28,653.04 222.52,654.99 222.76,656.35 223,657.3 223.31,659.63 223.62,661.32 223.93,662.29 224.24,663.54 224.55,665.55 224.86,667.14 225.17,668.94 225.48,670.31 225.79,672.36 226.1,673.9 226.44,676.22 226.79,676.53 227.13,677.98 227.48,680.26 227.82,681.68 228.17,683 228.51,686.01 228.86,687.36 229.2,688.5 229.67,689.52 230.13,692.43 230.6,692.59 231.07,694.73 231.53,696.65 232,698.59 232.47,699.35 232.93,700.52 233.4,703 234.13,704.74 234.86,706.73 235.59,707.19 236.31,709.73 237.04,710.71 237.77,712.72 238.5,713.4 239.8,715.37 241.1,716.06 242.4,717.69 243.7,718.5 245.36,719.02 247.02,719.7 248.68,720.42 250.34,721.06 252,721.7 253.66,721.9 255.32,722.1 256.98,722.3 258.64,722.5 260.3,722.7 261.92,722.78 263.53,722.87 265.15,722.95 266.77,723.03 268.38,723.12 270,723.2" fill="none" stroke="#40d240" stroke-width="1.15" stroke-linejoin="miter" stroke-miterlimit="2"/>
<polyline points="99,723 100.67,722.92 102.33,722.83 104,722.75 105.67,722.67 107.33,722.58 109,722.5 110.64,722.34 112.28,722.18 113.92,722.02 115.56,721.86 117.2,721.7 118.84,721.56 120.48,721.42 122.12,721.28 123.76,721.14 125.4,721 127.02,720.72 128.64,720.44 130.26,720.17 131.88,719.82 133.5,719.6 135.14,719.25 136.78,718.72 138.42,718.68 140.06,717.99 141.7,717.9 143.44,717.42 145.18,717.53 146.92,717.23 148.66,716.36 150.4,716.4 152.06,715.74 153.72,716.31 155.38,715.54 157.04,715.09 158.7,715.3 160.52,714.42 162.35,713.46 164.18,713.82 166,713.2 167.67,712.4 169.33,710.55 171,710 172.07,707.54 173.13,706.47 174.2,705.1 175.07,702.88 175.93,702.84 176.8,701.18 177.67,698.97 178.53,698.45 179.4,696.8 179.87,695.44 180.33,693.55 180.8,691.07 181.27,690.99 181.73,688.8 182.2,686.88 182.67,685.88 183.13,683.5 183.6,682.2 184.01,679.67 184.42,679.4 184.83,677.41 185.24,676.01 185.65,674.32 186.06,672.74 186.47,669.85 186.88,669.61 187.29,666.64 187.7,665.6 187.98,663.98 188.26,662.82 188.54,661.29 188.82,658.58 189.1,657.46 189.38,654.77 189.66,653.34 189.94,651.43 190.22,650.49 190.5,648.34 190.78,647.59 191.06,646.5 191.34,644.48 191.62,642.25 191.9,640.7 192.27,639.67 192.63,636.5 193,634.81 193.37,633.16 193.73,632.42 194.1,630 194.4,628.59 194.7,627.4 195,624.47 195.3,623.72 195.6,621.9 195.91,620.17 196.23,618.92 196.54,616.9 196.86,615.44 197.17,613.08 197.49,611.48 197.8,610 198.05,608.74 198.3,606.67 198.55,604.73 198.8,602.82 199.05,600.71 199.3,599.6 199.75,598.49 200.2,596.1 200.65,594.88 201.1,594.09 201.55,592.02 202,590 202.43,588.23 202.87,587.03 203.3,585.1 204.6,583.8 205.6,585.8 206.13,583.53 206.67,582.71 207.2,580.5 207.38,579.28 207.55,577.72 207.72,576.25 207.9,574 208.5,573.3 209.5,570.7 210.2,572 210.3,573.58 210.4,575.89 210.5,577.3 211.1,579.2 211.8,580.5 212.8,579.2 213.8,576.6 213.95,574.45 214.1,573.74 214.25,571 214.4,570.1 214.57,571.48 214.75,574.17 214.93,574.12 215.1,576.6 215.25,578.78 215.4,580.5 215.6,582.82 215.8,583.75 216,585.8 216.2,587.23 216.4,590 217.1,590.88 217.8,594.09 218.5,595.2 218.87,597.7 219.23,598.94 219.6,600.65 219.97,602.18 220.33,604.53 220.7,605.6 221,607.22 221.3,608.43 221.6,610.15 221.9,612.93 222.2,614.4 222.45,615.59 222.7,618.51 222.95,620.28 223.2,620.73 223.45,622.39 223.7,624.8 223.88,626.76 224.05,628.01 224.22,629.37 224.4,632.6 224.57,633.26 224.75,635.86 224.92,637.45 225.1,638.7 225.41,640.61 225.72,641.88 226.03,643.83 226.34,646.14 226.65,646.38 226.96,649.42 227.27,650.59 227.58,652.69 227.89,653.76 228.2,655.3 228.51,657.5 228.82,658.4 229.13,660.48 229.44,662.51 229.75,664 230.06,665.19 230.37,667.8 230.68,668.55 230.99,671.04 231.3,671.9 231.71,674.29 232.12,674.81 232.53,677.58 232.94,678.86 233.35,679.54 233.76,682.53 234.17,684.27 234.58,684.94 234.99,686.1 235.4,688.5 235.93,689.37 236.45,692.33 236.97,692.64 237.5,694.8 238.03,695.89 238.55,697.64 239.07,700.02 239.6,700.9 240.42,701.69 241.24,704.56 242.06,705.97 242.88,707.36 243.7,709.2 244.74,709.98 245.78,711.25 246.82,712.82 247.86,714.57 248.9,716.5 250.36,717.1 251.82,717.99 253.28,719 254.74,719.83 256.2,720.6 257.86,720.9 259.52,721.2 261.18,721.5 262.84,721.8 264.5,722.1 266.27,722.19 268.04,722.27 269.81,722.36 271.59,722.44 273.36,722.53 275.13,722.61 276.9,722.7 278.52,722.8 280.14,722.9 281.76,723 283.38,723.1 285,723.2" fill="none" stroke="#c04ccf" stroke-width="1.15" stroke-linejoin="miter" stroke-miterlimit="2"/>
<rect x="98.8" y="510.2" width="192.8" height="213.2" fill="none" stroke="#1a1a1a" stroke-width="1.3"/>
<line x1="95" y1="723.4" x2="98.8" y2="723.4" stroke="#1a1a1a" stroke-width="1.1"/>
<line x1="95" y1="707.12" x2="98.8" y2="707.12" stroke="#1a1a1a" stroke-width="1.1"/>
<line x1="95" y1="690.84" x2="98.8" y2="690.84" stroke="#1a1a1a" stroke-width="1.1"/>
<line x1="95" y1="674.56" x2="98.8" y2="674.56" stroke="#1a1a1a" stroke-width="1.1"/>
<line x1="95" y1="658.28" x2="98.8" y2="658.28" stroke="#1a1a1a" stroke-width="1.1"/>
<line x1="95" y1="642" x2="98.8" y2="642" stroke="#1a1a1a" stroke-width="1.1"/>
<line x1="95" y1="625.72" x2="98.8" y2="625.72" stroke="#1a1a1a" stroke-width="1.1"/>
<line x1="95" y1="609.44" x2="98.8" y2="609.44" stroke="#1a1a1a" stroke-width="1.1"/>
<line x1="95" y1="593.16" x2="98.8" y2="593.16" stroke="#1a1a1a" stroke-width="1.1"/>
<line x1="95" y1="576.88" x2="98.8" y2="576.88" stroke="#1a1a1a" stroke-width="1.1"/>
<line x1="95" y1="560.6" x2="98.8" y2="560.6" stroke="#1a1a1a" stroke-width="1.1"/>
<line x1="95" y1="544.32" x2="98.8" y2="544.32" stroke="#1a1a1a" stroke-width="1.1"/>
<line x1="95" y1="528.04" x2="98.8" y2="528.04" stroke="#1a1a1a" stroke-width="1.1"/>
<line x1="95" y1="511.76" x2="98.8" y2="511.76" stroke="#1a1a1a" stroke-width="1.1"/>
<text transform="translate(88.8,723.4) rotate(-90)" text-anchor="middle" font-size="10.5" fill="#333">0</text>
<text transform="translate(88.8,642) rotate(-90)" text-anchor="middle" font-size="10.5" fill="#333">50</text>
<text transform="translate(88.8,560.6) rotate(-90)" text-anchor="middle" font-size="10.5" fill="#333">100</text>
<line x1="98.8" y1="723.4" x2="98.8" y2="728.9" stroke="#1a1a1a" stroke-width="1"/>
<line x1="113.31" y1="723.4" x2="113.31" y2="727.4" stroke="#1a1a1a" stroke-width="1"/>
<line x1="121.8" y1="723.4" x2="121.8" y2="727.4" stroke="#1a1a1a" stroke-width="1"/>
<line x1="127.82" y1="723.4" x2="127.82" y2="727.4" stroke="#1a1a1a" stroke-width="1"/>
<line x1="132.49" y1="723.4" x2="132.49" y2="727.4" stroke="#1a1a1a" stroke-width="1"/>
<line x1="136.31" y1="723.4" x2="136.31" y2="727.4" stroke="#1a1a1a" stroke-width="1"/>
<line x1="139.53" y1="723.4" x2="139.53" y2="727.4" stroke="#1a1a1a" stroke-width="1"/>
<line x1="142.33" y1="723.4" x2="142.33" y2="727.4" stroke="#1a1a1a" stroke-width="1"/>
<line x1="144.79" y1="723.4" x2="144.79" y2="727.4" stroke="#1a1a1a" stroke-width="1"/>
<line x1="147" y1="723.4" x2="147" y2="728.9" stroke="#1a1a1a" stroke-width="1"/>
<line x1="161.51" y1="723.4" x2="161.51" y2="727.4" stroke="#1a1a1a" stroke-width="1"/>
<line x1="170" y1="723.4" x2="170" y2="727.4" stroke="#1a1a1a" stroke-width="1"/>
<line x1="176.02" y1="723.4" x2="176.02" y2="727.4" stroke="#1a1a1a" stroke-width="1"/>
<line x1="180.69" y1="723.4" x2="180.69" y2="727.4" stroke="#1a1a1a" stroke-width="1"/>
<line x1="184.51" y1="723.4" x2="184.51" y2="727.4" stroke="#1a1a1a" stroke-width="1"/>
<line x1="187.73" y1="723.4" x2="187.73" y2="727.4" stroke="#1a1a1a" stroke-width="1"/>
<line x1="190.53" y1="723.4" x2="190.53" y2="727.4" stroke="#1a1a1a" stroke-width="1"/>
<line x1="192.99" y1="723.4" x2="192.99" y2="727.4" stroke="#1a1a1a" stroke-width="1"/>
<line x1="195.2" y1="723.4" x2="195.2" y2="728.9" stroke="#1a1a1a" stroke-width="1"/>
<line x1="209.71" y1="723.4" x2="209.71" y2="727.4" stroke="#1a1a1a" stroke-width="1"/>
<line x1="218.2" y1="723.4" x2="218.2" y2="727.4" stroke="#1a1a1a" stroke-width="1"/>
<line x1="224.22" y1="723.4" x2="224.22" y2="727.4" stroke="#1a1a1a" stroke-width="1"/>
<line x1="228.89" y1="723.4" x2="228.89" y2="727.4" stroke="#1a1a1a" stroke-width="1"/>
<line x1="232.71" y1="723.4" x2="232.71" y2="727.4" stroke="#1a1a1a" stroke-width="1"/>
<line x1="235.93" y1="723.4" x2="235.93" y2="727.4" stroke="#1a1a1a" stroke-width="1"/>
<line x1="238.73" y1="723.4" x2="238.73" y2="727.4" stroke="#1a1a1a" stroke-width="1"/>
<line x1="241.19" y1="723.4" x2="241.19" y2="727.4" stroke="#1a1a1a" stroke-width="1"/>
<line x1="243.4" y1="723.4" x2="243.4" y2="728.9" stroke="#1a1a1a" stroke-width="1"/>
<line x1="257.91" y1="723.4" x2="257.91" y2="727.4" stroke="#1a1a1a" stroke-width="1"/>
<line x1="266.4" y1="723.4" x2="266.4" y2="727.4" stroke="#1a1a1a" stroke-width="1"/>
<line x1="272.42" y1="723.4" x2="272.42" y2="727.4" stroke="#1a1a1a" stroke-width="1"/>
<line x1="277.09" y1="723.4" x2="277.09" y2="727.4" stroke="#1a1a1a" stroke-width="1"/>
<line x1="280.91" y1="723.4" x2="280.91" y2="727.4" stroke="#1a1a1a" stroke-width="1"/>
<line x1="284.13" y1="723.4" x2="284.13" y2="727.4" stroke="#1a1a1a" stroke-width="1"/>
<line x1="286.93" y1="723.4" x2="286.93" y2="727.4" stroke="#1a1a1a" stroke-width="1"/>
<line x1="289.39" y1="723.4" x2="289.39" y2="727.4" stroke="#1a1a1a" stroke-width="1"/>
<line x1="291.6" y1="723.4" x2="291.6" y2="728.9" stroke="#1a1a1a" stroke-width="1"/>
<text x="91.2" y="741.9" font-size="11" fill="#333">10<tspan dx="-0.6" dy="-4.4" font-size="9">2</tspan></text>
<text x="139.4" y="741.9" font-size="11" fill="#333">10<tspan dx="-0.6" dy="-4.4" font-size="9">3</tspan></text>
<text x="187.6" y="741.9" font-size="11" fill="#333">10<tspan dx="-0.6" dy="-4.4" font-size="9">4</tspan></text>
<text x="235.8" y="741.9" font-size="11" fill="#333">10<tspan dx="-0.6" dy="-4.4" font-size="9">5</tspan></text>
<text x="284" y="741.9" font-size="11" fill="#333">10<tspan dx="-0.6" dy="-4.4" font-size="9">6</tspan></text>
<line x1="99.1" y1="697.2" x2="99.1" y2="723.4" stroke="#9a209a" stroke-width="1.5"/>
</g>
<rect x="302.75" y="31.95" width="13" height="13.4" fill="#ff0000" stroke="#111" stroke-width="1.3"/>
<text x="319.3" y="40.7" font-size="13.4" font-weight="bold" fill="#111" textLength="48.8" lengthAdjust="spacingAndGlyphs">Control</text>
<rect x="302.75" y="52.95" width="13" height="13.3" fill="#00ff00" stroke="#111" stroke-width="1.3"/>
<text x="319.3" y="61" font-size="13.4" font-weight="bold" fill="#111" textLength="52.2" lengthAdjust="spacingAndGlyphs">Der f 31</text>
<rect x="302.75" y="71.15" width="13" height="13.5" fill="#ff00ff" stroke="#111" stroke-width="1.3"/>
<text x="319.3" y="82.9" font-size="13.4" font-weight="bold" fill="#111" textLength="22.2" lengthAdjust="spacingAndGlyphs">LPS</text>
<line x1="302" y1="48.7" x2="316" y2="48.7" stroke="#999" stroke-width="0.8"/>
<line x1="438" y1="202.56" x2="443" y2="202.56" stroke="#000" stroke-width="1.8"/>
<text x="436.5" y="206.26" text-anchor="end" font-size="10.4" font-weight="bold" fill="#111">4000</text>
<line x1="438" y1="168.12" x2="443" y2="168.12" stroke="#000" stroke-width="1.8"/>
<text x="436.5" y="171.82" text-anchor="end" font-size="10.4" font-weight="bold" fill="#111">6000</text>
<line x1="438" y1="133.68" x2="443" y2="133.68" stroke="#000" stroke-width="1.8"/>
<text x="436.5" y="137.38" text-anchor="end" font-size="10.4" font-weight="bold" fill="#111">8000</text>
<line x1="438" y1="99.24" x2="443" y2="99.24" stroke="#000" stroke-width="1.8"/>
<text x="436.5" y="102.94" text-anchor="end" font-size="10.4" font-weight="bold" fill="#111">10000</text>
<line x1="438" y1="64.8" x2="443" y2="64.8" stroke="#000" stroke-width="1.8"/>
<text x="436.5" y="68.5" text-anchor="end" font-size="10.4" font-weight="bold" fill="#111">12000</text>
<line x1="481.35" y1="183.3" x2="481.35" y2="189.6" stroke="#000" stroke-width="2"/>
<line x1="468.4" y1="183.3" x2="494.6" y2="183.3" stroke="#000" stroke-width="2"/>
<rect x="456.7" y="190.6" width="49.3" height="28.2" fill="url(#pfine)" stroke="#000" stroke-width="2.3"/>
<line x1="557.65" y1="136.5" x2="557.65" y2="142.4" stroke="#000" stroke-width="2"/>
<line x1="544.6" y1="136.5" x2="571.3" y2="136.5" stroke="#000" stroke-width="2"/>
<rect x="532.6" y="143.4" width="50.1" height="75.4" fill="url(#pcheck)" stroke="#000" stroke-width="2.3"/>
<rect x="609.9" y="88.2" width="49.1" height="130.6" fill="url(#plines)" stroke="#000" stroke-width="2.3"/>
<line x1="443" y1="63.8" x2="443" y2="219.8" stroke="#000" stroke-width="2"/>
<line x1="442" y1="218.8" x2="672.4" y2="218.8" stroke="#000" stroke-width="2"/>
<line x1="481.2" y1="218.8" x2="481.2" y2="223.8" stroke="#000" stroke-width="1.8"/>
<text transform="translate(484.4,236.8) rotate(-45)" text-anchor="end" font-size="11.2" font-weight="bold" fill="#111">Control</text>
<line x1="557.6" y1="218.8" x2="557.6" y2="223.8" stroke="#000" stroke-width="1.8"/>
<text transform="translate(560.8,236.8) rotate(-45)" text-anchor="end" font-size="11.2" font-weight="bold" fill="#111">Der f 31</text>
<line x1="634.3" y1="218.8" x2="634.3" y2="223.8" stroke="#000" stroke-width="1.8"/>
<text transform="translate(637.5,236.8) rotate(-45)" text-anchor="end" font-size="11.2" font-weight="bold" fill="#111">LPS</text>
<path d="M478.5,124.8V134.4M478.5,129.5H558.3M558.3,124.8V134.4" stroke="#111" stroke-width="1.5" fill="none"/>
<text x="516.5" y="131.5" text-anchor="middle" font-size="20" fill="#222" letter-spacing="0.6">**</text>
<text x="538.8" y="46.3" text-anchor="middle" font-size="15.2" font-weight="bold" fill="#000">CD40</text>
<text transform="translate(398.7,141.3) rotate(-90)" text-anchor="middle" font-size="11.5" font-weight="bold" fill="#000">MFI</text>
<line x1="435.4" y1="470.8" x2="440.4" y2="470.8" stroke="#000" stroke-width="1.8"/>
<text x="433.9" y="474.5" text-anchor="end" font-size="10.4" font-weight="bold" fill="#111">0</text>
<line x1="435.4" y1="432.85" x2="440.4" y2="432.85" stroke="#000" stroke-width="1.8"/>
<text x="433.9" y="436.55" text-anchor="end" font-size="10.4" font-weight="bold" fill="#111">10000</text>
<line x1="435.4" y1="394.9" x2="440.4" y2="394.9" stroke="#000" stroke-width="1.8"/>
<text x="433.9" y="398.6" text-anchor="end" font-size="10.4" font-weight="bold" fill="#111">20000</text>
<line x1="435.4" y1="356.95" x2="440.4" y2="356.95" stroke="#000" stroke-width="1.8"/>
<text x="433.9" y="360.65" text-anchor="end" font-size="10.4" font-weight="bold" fill="#111">30000</text>
<line x1="435.4" y1="319" x2="440.4" y2="319" stroke="#000" stroke-width="1.8"/>
<text x="433.9" y="322.7" text-anchor="end" font-size="10.4" font-weight="bold" fill="#111">40000</text>
<line x1="477.9" y1="405.9" x2="477.9" y2="415.4" stroke="#000" stroke-width="2"/>
<line x1="464.9" y1="405.9" x2="491" y2="405.9" stroke="#000" stroke-width="2"/>
<rect x="453.3" y="416.4" width="49.2" height="54.4" fill="url(#pfine)" stroke="#000" stroke-width="2.3"/>
<line x1="553.8" y1="365.6" x2="553.8" y2="372.7" stroke="#000" stroke-width="2"/>
<line x1="540.7" y1="365.6" x2="566.8" y2="365.6" stroke="#000" stroke-width="2"/>
<rect x="529.2" y="373.7" width="49.2" height="97.1" fill="url(#pcheck)" stroke="#000" stroke-width="2.3"/>
<line x1="629.45" y1="344.1" x2="629.45" y2="354.5" stroke="#000" stroke-width="2"/>
<line x1="616.3" y1="344.1" x2="642.8" y2="344.1" stroke="#000" stroke-width="2"/>
<rect x="604.9" y="355.5" width="49.1" height="115.3" fill="url(#plines)" stroke="#000" stroke-width="2.3"/>
<line x1="440.4" y1="318" x2="440.4" y2="471.8" stroke="#000" stroke-width="2"/>
<line x1="435.4" y1="470.8" x2="667.3" y2="470.8" stroke="#000" stroke-width="2"/>
<line x1="477.9" y1="470.8" x2="477.9" y2="475.8" stroke="#000" stroke-width="1.8"/>
<text transform="translate(481.1,488.8) rotate(-45)" text-anchor="end" font-size="11.2" font-weight="bold" fill="#111">Control</text>
<line x1="553.8" y1="470.8" x2="553.8" y2="475.8" stroke="#000" stroke-width="1.8"/>
<text transform="translate(557,488.8) rotate(-45)" text-anchor="end" font-size="11.2" font-weight="bold" fill="#111">Der f 31</text>
<line x1="629.5" y1="470.8" x2="629.5" y2="475.8" stroke="#000" stroke-width="1.8"/>
<text transform="translate(632.7,488.8) rotate(-45)" text-anchor="end" font-size="11.2" font-weight="bold" fill="#111">LPS</text>
<path d="M475.1,352.3V360.9M475.1,356.6H554.2M554.2,352.3V360.9" stroke="#111" stroke-width="1.5" fill="none"/>
<text x="514.9" y="361.1" text-anchor="middle" font-size="20" fill="#222" letter-spacing="0.6">*</text>
<text x="535" y="300.2" text-anchor="middle" font-size="15.2" font-weight="bold" fill="#000">CD80</text>
<text transform="translate(397.5,395.8) rotate(-90)" text-anchor="middle" font-size="11.5" font-weight="bold" fill="#000">MFI</text>
<line x1="436.7" y1="718.5" x2="441.7" y2="718.5" stroke="#000" stroke-width="1.8"/>
<text x="435.2" y="722.2" text-anchor="end" font-size="10.4" font-weight="bold" fill="#111">0</text>
<line x1="436.7" y1="668" x2="441.7" y2="668" stroke="#000" stroke-width="1.8"/>
<text x="435.2" y="671.7" text-anchor="end" font-size="10.4" font-weight="bold" fill="#111">10000</text>
<line x1="436.7" y1="617.5" x2="441.7" y2="617.5" stroke="#000" stroke-width="1.8"/>
<text x="435.2" y="621.2" text-anchor="end" font-size="10.4" font-weight="bold" fill="#111">20000</text>
<line x1="436.7" y1="567" x2="441.7" y2="567" stroke="#000" stroke-width="1.8"/>
<text x="435.2" y="570.7" text-anchor="end" font-size="10.4" font-weight="bold" fill="#111">30000</text>
<line x1="479.7" y1="644.4" x2="479.7" y2="645.5" stroke="#000" stroke-width="2"/>
<line x1="466.1" y1="644.4" x2="492.9" y2="644.4" stroke="#000" stroke-width="2"/>
<rect x="455.3" y="646.5" width="48.8" height="72" fill="url(#pfine)" stroke="#000" stroke-width="2.3"/>
<line x1="554.55" y1="619" x2="554.55" y2="622.5" stroke="#000" stroke-width="2"/>
<line x1="541" y1="619" x2="568.1" y2="619" stroke="#000" stroke-width="2"/>
<rect x="529.8" y="623.5" width="49.5" height="95" fill="url(#pcheck)" stroke="#000" stroke-width="2.3"/>
<line x1="629.95" y1="588.7" x2="629.95" y2="596.7" stroke="#000" stroke-width="2"/>
<line x1="616.5" y1="588.7" x2="643" y2="588.7" stroke="#000" stroke-width="2"/>
<rect x="605.7" y="597.7" width="48.5" height="120.8" fill="url(#plines)" stroke="#000" stroke-width="2.3"/>
<line x1="441.7" y1="566" x2="441.7" y2="719.5" stroke="#000" stroke-width="2"/>
<line x1="436.7" y1="718.5" x2="668" y2="718.5" stroke="#000" stroke-width="2"/>
<line x1="479" y1="718.5" x2="479" y2="723.5" stroke="#000" stroke-width="1.8"/>
<text transform="translate(482.2,735) rotate(-45)" text-anchor="end" font-size="11.2" font-weight="bold" fill="#111">Control</text>
<line x1="554.9" y1="718.5" x2="554.9" y2="723.5" stroke="#000" stroke-width="1.8"/>
<text transform="translate(558.1,735) rotate(-45)" text-anchor="end" font-size="11.2" font-weight="bold" fill="#111">Der f 31</text>
<line x1="629.8" y1="718.5" x2="629.8" y2="723.5" stroke="#000" stroke-width="1.8"/>
<text transform="translate(633,735) rotate(-45)" text-anchor="end" font-size="11.2" font-weight="bold" fill="#111">LPS</text>
<path d="M476.6,607.6V616.9M476.6,612.4H554.9M554.9,607.6V616.9" stroke="#111" stroke-width="1.5" fill="none"/>
<text x="514" y="615.2" text-anchor="middle" font-size="20" fill="#222" letter-spacing="0.6">**</text>
<text x="536.2" y="548.7" text-anchor="middle" font-size="15.2" font-weight="bold" fill="#000">CD83</text>
<text transform="translate(399.6,642) rotate(-90)" text-anchor="middle" font-size="11.5" font-weight="bold" fill="#000">MFI</text>
</svg></body></html>
